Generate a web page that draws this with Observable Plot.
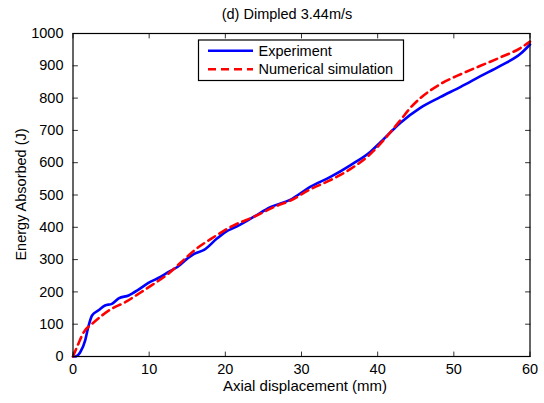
<!DOCTYPE html>
<html><head><meta charset="utf-8">
<script src="https://cdn.jsdelivr.net/npm/d3@7"></script>
<script src="https://cdn.jsdelivr.net/npm/@observablehq/plot@0.6"></script>
<style>
body{margin:0;background:#fff;}
#chart{position:relative;width:544px;height:403px;}
</style>
</head><body><div id="chart"></div>
<script>
// Experiment (blue solid)
const expX = [0, 0.3, 0.95, 1.6, 2.0, 2.5, 3.35, 4.2, 5.1, 6.0, 7.3, 8.6, 9.9, 11.2, 12.5, 13.7, 15.0, 15.9, 17.2, 18.9, 20.2, 21.1, 23.7, 25.9, 28.5, 31.2, 33.8, 36.4, 39.1, 40.4, 43.0, 45.6, 48.2, 50.9, 53.5, 56.1, 58.75, 60];
const expY = [0, 0, 13, 50, 91, 127, 143, 158, 163, 180, 189, 207, 228, 243, 261, 277, 303, 318, 330, 365, 388, 398, 432, 462, 485, 526, 556, 592, 635, 664, 724, 770, 803, 835, 868, 900, 937, 966];
// Numerical simulation (red dashed)
const simX = [0, 0.7, 1.4, 2.5, 3.8, 5.1, 6.85, 8.6, 10.3, 12.5, 14.2, 15.9, 18.5, 21.1, 23.7, 26.4, 28.55, 31.2, 33.8, 36.4, 39.1, 40.4, 41.7, 43.0, 44.3, 45.6, 47.0, 48.2, 50.9, 53.5, 56.1, 58.75, 60];
const simY = [0, 39, 75, 101, 127, 148, 168, 194, 220, 256, 292, 328, 370, 406, 432, 463, 483, 518, 546, 580, 628, 660, 695, 732, 770, 800, 825, 843, 874, 900, 926, 955, 975];

const xTicks = [0, 10, 20, 30, 40, 50, 60];
const yTicks = [0, 100, 200, 300, 400, 500, 600, 700, 800, 900, 1000];
const seriesNames = ["Experiment", "Numerical simulation"];
const seriesColors = ["#0000ff", "#ff0000"];
const titleText = "(d) Dimpled 3.44m/s";
const xLabel = "Axial displacement (mm)";
const yLabel = "Energy Absorbed (J)";

const exp = expX.map((x, i) => ({x, y: expY[i]}));
const sim = simX.map((x, i) => ({x, y: simY[i]}));

const font = "'Liberation Sans', Arial, sans-serif";
const W = 544, H = 403, mL = 72.5, mR = 14.5, mT = 33, mB = 47;
const TL = 4.5; // inward tick length
const tickUp = {draw(c, l) { c.moveTo(0, 0); c.lineTo(0, -l); }};
const tickDown = {draw(c, l) { c.moveTo(0, 0); c.lineTo(0, l); }};
const tickRightward = {draw(c, l) { c.moveTo(0, 0); c.lineTo(l, 0); }};
const tickLeftward = {draw(c, l) { c.moveTo(0, 0); c.lineTo(-l, 0); }};
const tickStyle = {stroke: "#333", strokeWidth: 1, length: TL, anchor: "start"};

const plot = Plot.plot({
  width: W, height: H,
  marginLeft: mL, marginRight: mR, marginTop: mT, marginBottom: mB,
  style: {fontFamily: font, fontSize: "14.5px", background: "white", color: "black", overflow: "visible"},
  x: {domain: [0, 60]},
  y: {domain: [0, 1000]},
  marks: [
    Plot.line(exp, {x: "x", y: "y", stroke: seriesColors[0], strokeWidth: 2.6, curve: "monotone-x"}),
    Plot.line(sim, {x: "x", y: "y", stroke: seriesColors[1], strokeWidth: 2.6, strokeDasharray: "8,5", curve: "monotone-x"}),
    Plot.axisX({ticks: xTicks, tickSize: 0, tickPadding: 7, label: null, tickFormat: d => String(d)}),
    Plot.axisY({ticks: yTicks, tickSize: 0, tickPadding: 9.5, label: null, tickFormat: d => String(d)}),
    Plot.vector(xTicks, {x: d => d, frameAnchor: "bottom", shape: tickUp, ...tickStyle}),
    Plot.vector(xTicks, {x: d => d, frameAnchor: "top", shape: tickDown, ...tickStyle}),
    Plot.vector(yTicks, {y: d => d, frameAnchor: "left", shape: tickRightward, ...tickStyle}),
    Plot.vector(yTicks, {y: d => d, frameAnchor: "right", shape: tickLeftward, ...tickStyle}),
    Plot.frame({stroke: "black", strokeWidth: 1.2})
  ]
});

const svg = d3.select(plot);
const addText = (sel) => sel.style("font-family", font).attr("fill", "black");
// Title
addText(svg.append("text")).attr("x", 287).attr("y", 19).attr("text-anchor", "middle")
  .style("font-size", "14.5px").text(titleText);
// X label
addText(svg.append("text")).attr("x", 305).attr("y", 391).attr("text-anchor", "middle")
  .style("font-size", "15px").text(xLabel);
// Y label
addText(svg.append("text")).attr("transform", "translate(26,194.5) rotate(-90)").attr("text-anchor", "middle")
  .style("font-size", "14.5px").text(yLabel);
// Legend
const lg = svg.append("g");
lg.append("rect").attr("x", 198.5).attr("y", 40).attr("width", 205).attr("height", 40.5)
  .attr("fill", "white").attr("stroke", "black").attr("stroke-width", 1.2);
seriesNames.forEach((name, i) => {
  const yy = 50.7 + i * 18.6;
  lg.append("line").attr("x1", 208).attr("x2", 253).attr("y1", yy).attr("y2", yy)
    .attr("stroke", seriesColors[i]).attr("stroke-width", 2.6)
    .attr("stroke-dasharray", i === 1 ? "8,5" : null);
  addText(lg.append("text")).attr("x", 258.5).attr("y", yy + 5).attr("text-anchor", "start")
    .style("font-size", "14.5px").text(name);
});

document.getElementById("chart").appendChild(plot);
</script>
</body></html>
